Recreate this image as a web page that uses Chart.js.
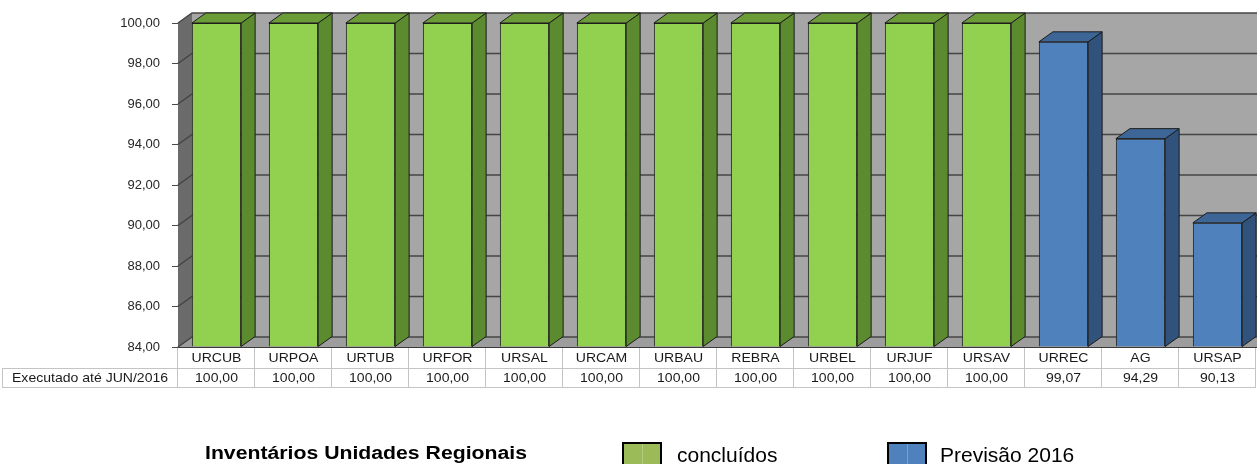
<!DOCTYPE html>
<html>
<head>
<meta charset="utf-8">
<script src="https://cdn.jsdelivr.net/npm/chart.js@4.4.1/dist/chart.umd.min.js"></script>
<style>
  html, body { margin: 0; padding: 0; background: #ffffff; overflow: hidden; }
  #wrap { width: 1257px; height: 464px; position: relative; }
</style>
</head>
<body>
<div id="wrap"><canvas id="c" width="1257" height="464"></canvas></div>
<script>
// Regional units, in display order
const categories = ['URCUB', 'URPOA', 'URTUB', 'URFOR', 'URSAL', 'URCAM', 'URBAU', 'REBRA', 'URBEL', 'URJUF', 'URSAV', 'URREC', 'AG', 'URSAP'];
// Completed inventories (%)
const concluidos = [100, 100, 100, 100, 100, 100, 100, 100, 100, 100, 100, null, null, null];
// Units still in progress, forecast for 2016 (%)
const previsao2016 = [null, null, null, null, null, null, null, null, null, null, null, 99.07, 94.29, 90.13];
// Value axis
const yTicks = [84, 86, 88, 90, 92, 94, 96, 98, 100];
const yTickLabels = ['84,00', '86,00', '88,00', '90,00', '92,00', '94,00', '96,00', '98,00', '100,00'];
// Texts
const tableRowTitle = 'Executado até JUN/2016';
const chartTitle = 'Inventários Unidades Regionais';
const seriesNames = ['concluídos', 'Previsão 2016'];

const FONT = '"Liberation Sans", Arial, Helvetica, sans-serif';
const DEPTH_X = 14, DEPTH_Y = -10;

function fmt(v) { return v.toFixed(2).replace('.', ','); }

// Draws the 3D walls/floor behind the bars, and the bar sides/tops in front
const threeD = {
  id: 'threeD',
  beforeDatasetsDraw(chart) {
    const ctx = chart.ctx, a = chart.chartArea, y = chart.scales.y;
    const L = a.left, R = a.right, T = a.top, B = a.bottom;
    ctx.save();
    // back wall
    ctx.fillStyle = '#a6a6a6';
    ctx.fillRect(L + DEPTH_X, T + DEPTH_Y, R - L + 20, B - T);
    // floor
    ctx.fillStyle = '#9d9d9d';
    ctx.beginPath();
    ctx.moveTo(L, B); ctx.lineTo(L + DEPTH_X, B + DEPTH_Y);
    ctx.lineTo(R + DEPTH_X + 20, B + DEPTH_Y); ctx.lineTo(R + 20, B);
    ctx.closePath(); ctx.fill();
    // left side wall
    ctx.fillStyle = '#6b6b6b';
    ctx.beginPath();
    ctx.moveTo(L, T); ctx.lineTo(L + DEPTH_X, T + DEPTH_Y);
    ctx.lineTo(L + DEPTH_X, B + DEPTH_Y); ctx.lineTo(L, B);
    ctx.closePath(); ctx.fill();
    // gridlines on back and side walls
    ctx.strokeStyle = '#454545';
    ctx.lineWidth = 1.5;
    yTicks.forEach(v => {
      const py = y.getPixelForValue(v);
      ctx.beginPath();
      ctx.moveTo(L, py); ctx.lineTo(L + DEPTH_X, py + DEPTH_Y);
      ctx.lineTo(R + DEPTH_X + 20, py + DEPTH_Y);
      ctx.stroke();
    });
    // floor front edge
    ctx.strokeStyle = '#3a3a3a';
    ctx.lineWidth = 1;
    ctx.beginPath();
    ctx.moveTo(L, B + 0.5); ctx.lineTo(R + 20, B + 0.5);
    ctx.stroke();
    ctx.restore();
  },
  afterDatasetsDraw(chart) {
    const ctx = chart.ctx;
    ctx.save();
    ctx.lineWidth = 1;
    ctx.strokeStyle = '#1c1c1c';
    ctx.lineJoin = 'round';
    chart.data.datasets.forEach((ds, di) => {
      const meta = chart.getDatasetMeta(di);
      meta.data.forEach((el, i) => {
        if (ds.data[i] === null) return;
        const p = el.getProps(['x', 'y', 'base', 'width'], true);
        const xl = p.x - p.width / 2, xr = p.x + p.width / 2;
        // side face
        ctx.fillStyle = ds.sideColor;
        ctx.beginPath();
        ctx.moveTo(xr, p.y); ctx.lineTo(xr + DEPTH_X, p.y + DEPTH_Y);
        ctx.lineTo(xr + DEPTH_X, p.base + DEPTH_Y); ctx.lineTo(xr, p.base);
        ctx.closePath(); ctx.fill(); ctx.stroke();
        // top face
        ctx.fillStyle = ds.topColor;
        ctx.beginPath();
        ctx.moveTo(xl, p.y); ctx.lineTo(xl + DEPTH_X, p.y + DEPTH_Y);
        ctx.lineTo(xr + DEPTH_X, p.y + DEPTH_Y); ctx.lineTo(xr, p.y);
        ctx.closePath(); ctx.fill(); ctx.stroke();
      });
    });
    ctx.restore();
  }
};

function stretchedText(ctx, text, x, y, scaleX, align) {
  ctx.save();
  ctx.translate(x, y);
  ctx.scale(scaleX, 1);
  ctx.textAlign = align;
  ctx.fillText(text, 0, 0);
  ctx.restore();
}

// Data table under the plot, and the legend line
const tableAndLegend = {
  id: 'tableAndLegend',
  afterDraw(chart) {
    const ctx = chart.ctx, a = chart.chartArea, xs = chart.scales.x;
    const L = a.left, R = a.right, B = a.bottom;
    const n = categories.length, cw = (R - L) / n;
    const r1 = B + 21, r2 = B + 40;
    ctx.save();
    ctx.strokeStyle = '#c4c4c4';
    ctx.lineWidth = 1;
    ctx.beginPath();
    ctx.moveTo(2, r1 + 0.5); ctx.lineTo(R, r1 + 0.5);
    ctx.moveTo(2, r2 + 0.5); ctx.lineTo(R, r2 + 0.5);
    ctx.moveTo(2.5, r1); ctx.lineTo(2.5, r2);
    for (let i = 0; i <= n; i++) {
      const x = Math.round(L + i * cw) - 0.5;
      ctx.moveTo(x, B + 1); ctx.lineTo(x, r2);
    }
    ctx.stroke();

    ctx.fillStyle = '#1a1a1a';
    ctx.font = '13px ' + FONT;
    ctx.textBaseline = 'middle';
    categories.forEach((c, i) => {
      const cx = xs.getPixelForValue(i);
      stretchedText(ctx, c, cx, B + 11.5, 1.08, 'center');
      const v = concluidos[i] !== null ? concluidos[i] : previsao2016[i];
      stretchedText(ctx, fmt(v), cx, r1 + 10, 1.08, 'center');
    });
    stretchedText(ctx, tableRowTitle, 12, r1 + 10, 1.08, 'left');

    // legend line
    ctx.textBaseline = 'alphabetic';
    ctx.fillStyle = '#000000';
    ctx.font = 'bold 18px ' + FONT;
    const tw = ctx.measureText(chartTitle).width;
    stretchedText(ctx, chartTitle, 205, 459, 322 / tw, 'left');

    const items = [
      { box: 623, text: 677 },
      { box: 888, text: 940 }
    ];
    ctx.font = '21px ' + FONT;
    chart.data.datasets.forEach((ds, di) => {
      const it = items[di];
      ctx.fillStyle = ds.legendColor;
      ctx.fillRect(it.box, 443, 38, 24);
      ctx.strokeStyle = 'rgba(255,255,255,0.25)';
      ctx.lineWidth = 1;
      ctx.beginPath();
      ctx.moveTo(it.box + 19.5, 443); ctx.lineTo(it.box + 19.5, 467);
      ctx.stroke();
      ctx.strokeStyle = '#000000';
      ctx.lineWidth = 2;
      ctx.strokeRect(it.box, 443, 38, 24);
      ctx.fillStyle = '#000000';
      ctx.textAlign = 'left';
      ctx.fillText(seriesNames[di], it.text, 462);
    });
    ctx.restore();
  }
};

new Chart(document.getElementById('c'), {
  type: 'bar',
  data: {
    labels: categories,
    datasets: [
      {
        label: seriesNames[0],
        data: concluidos,
        base: yTicks[0],
        backgroundColor: '#92d050',
        borderColor: '#1c1c1c',
        borderWidth: 1,
        sideColor: '#5b8a2f',
        topColor: '#6c9c38',
        legendColor: '#9bbb59'
      },
      {
        label: seriesNames[1],
        data: previsao2016,
        base: yTicks[0],
        backgroundColor: '#4f81bd',
        borderColor: '#1c1c1c',
        borderWidth: 1,
        sideColor: '#30527b',
        topColor: '#3d6696',
        legendColor: '#4f81bd'
      }
    ]
  },
  options: {
    responsive: false,
    animation: false,
    devicePixelRatio: 1,
    layout: { padding: { top: 23, bottom: 117, left: 0, right: 1 } },
    datasets: { bar: { grouped: false, categoryPercentage: 1, barPercentage: 0.64 } },
    plugins: { legend: { display: false }, tooltip: { enabled: false } },
    scales: {
      x: { type: 'category', display: false },
      y: {
        min: 84,
        max: 100,
        afterFit(s) { s.width = 178; },
        afterBuildTicks(s) { s.ticks = yTicks.map(v => ({ value: v })); },
        ticks: {
          callback: v => yTickLabels[yTicks.indexOf(v)],
          color: '#262626',
          font: { family: FONT, size: 13 },
          padding: 12
        },
        grid: { drawOnChartArea: false, drawTicks: true, tickLength: 6, color: '#4a4a4a' },
        border: { display: false }
      }
    }
  },
  plugins: [threeD, tableAndLegend]
});
</script>
</body>
</html>
